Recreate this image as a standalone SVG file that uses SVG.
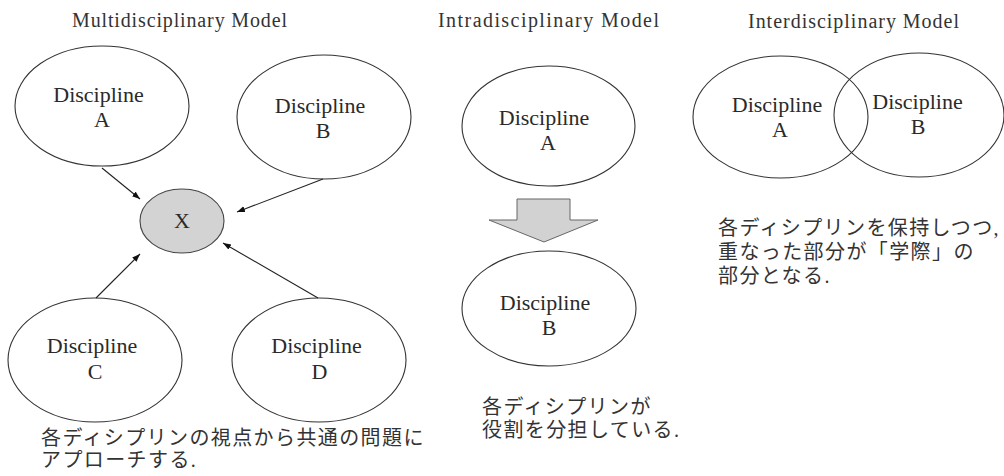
<svg xmlns="http://www.w3.org/2000/svg" width="1004" height="476" viewBox="0 0 1004 476">
<style>
.bg{fill:#ffffff}
.title{font-family:"Liberation Serif",serif;font-size:20px;fill:#333;text-anchor:middle}
.lbl{font-family:"Liberation Serif",serif;font-size:22px;fill:#2a2a2a;text-anchor:middle}
.jp{font-family:"Liberation Serif","Noto Sans CJK JP",serif;font-size:20px;fill:#333;letter-spacing:1.4px}
.ell{fill:none;stroke:#333;stroke-width:1.1}
.ellx{fill:#d3d3d3;stroke:#444;stroke-width:1.1}
.conn{stroke:#222;stroke-width:1.1;fill:none;marker-end:url(#ah)}
.block{fill:#d2d2d2;stroke:#666;stroke-width:1}
</style>
<defs>
<marker id="ah" markerWidth="9" markerHeight="7" refX="8" refY="3" orient="auto" markerUnits="userSpaceOnUse">
<path d="M0,0 L8,3 L0,6 z" fill="#111"/>
</marker>
</defs>
<rect class="bg" x="0" y="0" width="1004" height="476"/>

<text class="title" x="179.5" y="27" textLength="215" lengthAdjust="spacing">Multidisciplinary Model</text>
<text class="title" x="548.5" y="27" textLength="221" lengthAdjust="spacing">Intradisciplinary Model</text>
<text class="title" x="853.5" y="28" textLength="211" lengthAdjust="spacing">Interdisciplinary Model</text>

<g id="multi-A">
<ellipse class="ell" cx="102" cy="106" rx="87" ry="60"/>
<text class="lbl" x="98.5" y="102">Discipline</text>
<text class="lbl" x="102" y="127">A</text>
</g>
<g id="multi-B">
<ellipse class="ell" cx="324" cy="117" rx="87" ry="62"/>
<text class="lbl" x="320" y="113">Discipline</text>
<text class="lbl" x="323" y="138">B</text>
</g>
<g id="multi-X">
<ellipse class="ellx" cx="182" cy="221" rx="42" ry="32"/>
<text class="lbl" x="182" y="228">X</text>
</g>
<g id="multi-C">
<ellipse class="ell" cx="95" cy="360" rx="87" ry="62"/>
<text class="lbl" x="92" y="353">Discipline</text>
<text class="lbl" x="95" y="379">C</text>
</g>
<g id="multi-D">
<ellipse class="ell" cx="319" cy="360" rx="87" ry="62"/>
<text class="lbl" x="316.5" y="353">Discipline</text>
<text class="lbl" x="319.5" y="379">D</text>
</g>

<g id="connectors">
<line class="conn" x1="102" y1="168" x2="140" y2="199"/>
<line class="conn" x1="323" y1="179" x2="237" y2="212"/>
<line class="conn" x1="96" y1="298" x2="140" y2="254"/>
<line class="conn" x1="318" y1="298" x2="223" y2="243"/>
</g>

<g id="multi-note">
<text class="jp" x="41" y="445">各ディシプリンの視点から共通の問題に</text>
<text class="jp" x="41" y="467">アプローチする.</text>
</g>

<g id="intra-A">
<ellipse class="ell" cx="548.5" cy="126" rx="86.5" ry="60"/>
<text class="lbl" x="544" y="125">Discipline</text>
<text class="lbl" x="548" y="150">A</text>
</g>
<g id="intra-arrow">
<polygon class="block" points="517,199 570,199 570,220 598,220 544,242 489,220 517,220"/>
</g>
<g id="intra-B">
<ellipse class="ell" cx="549" cy="308.5" rx="87" ry="57.5"/>
<text class="lbl" x="545" y="310">Discipline</text>
<text class="lbl" x="549" y="335">B</text>
</g>
<g id="intra-note">
<text class="jp" x="482" y="414">各ディシプリンが</text>
<text class="jp" x="482" y="437">役割を分担している.</text>
</g>

<g id="inter-A">
<ellipse class="ell" cx="780.5" cy="117" rx="87.5" ry="61"/>
<text class="lbl" x="777" y="112">Discipline</text>
<text class="lbl" x="780" y="137">A</text>
</g>
<g id="inter-B">
<ellipse class="ell" cx="919" cy="115" rx="85" ry="62"/>
<text class="lbl" x="917.5" y="109">Discipline</text>
<text class="lbl" x="918" y="134">B</text>
</g>
<g id="inter-note">
<text class="jp" x="718" y="235">各ディシプリンを保持しつつ,</text>
<text class="jp" x="718" y="259">重なった部分が「学際」の</text>
<text class="jp" x="718" y="283">部分となる.</text>
</g>
</svg>
